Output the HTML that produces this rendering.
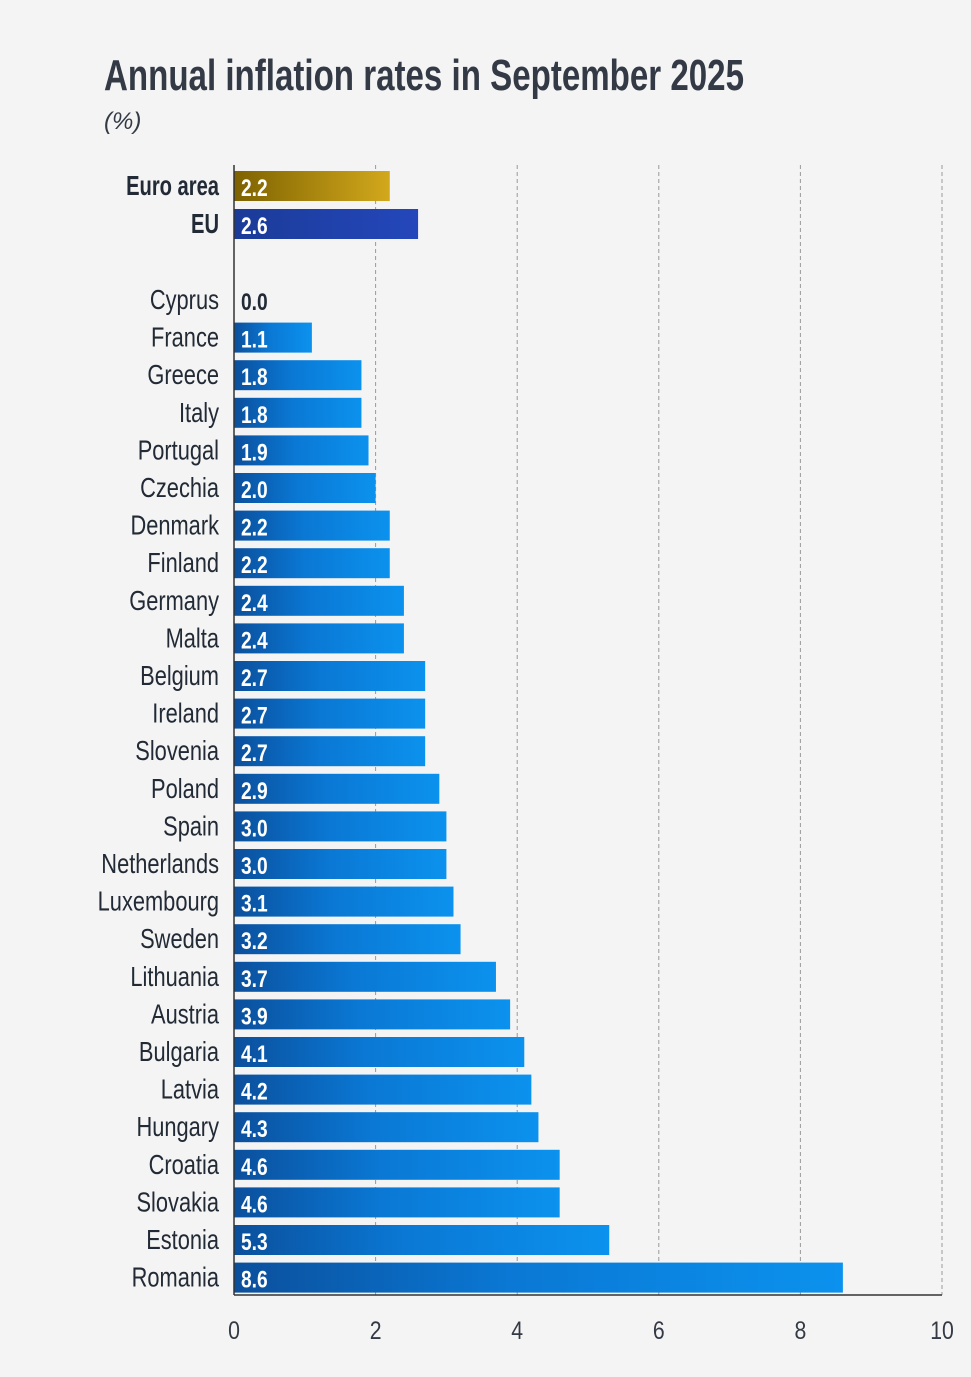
<!DOCTYPE html>
<html><head><meta charset="utf-8"><style>
html,body{margin:0;padding:0;background:#f4f4f4;}
svg{display:block;}
</style></head><body>
<svg id="chart" width="971" height="1377" viewBox="0 0 971 1377" xmlns="http://www.w3.org/2000/svg" font-family="'Liberation Sans',sans-serif">
<defs>
<linearGradient id="gBlue" x1="0" x2="1" y1="0" y2="0"><stop offset="0" stop-color="#0b4f9c"/><stop offset="0.45" stop-color="#0a78d4"/><stop offset="1" stop-color="#0b92ee"/></linearGradient>
<linearGradient id="gGold" x1="0" x2="1" y1="0" y2="0"><stop offset="0" stop-color="#7d6200"/><stop offset="1" stop-color="#d2a81c"/></linearGradient>
<linearGradient id="gEU" x1="0" x2="1" y1="0" y2="0"><stop offset="0" stop-color="#1b3b98"/><stop offset="1" stop-color="#2447bb"/></linearGradient>
</defs>
<rect width="971" height="1377" fill="#f4f4f4"/>
<text x="104" y="90" font-size="44" font-weight="bold" fill="#333a45" textLength="640" lengthAdjust="spacingAndGlyphs">Annual inflation rates in September 2025</text>
<text x="104" y="129" font-size="24" font-style="italic" fill="#333a45">(%)</text>
<g id="grid"></g>
<g id="bars"></g>
<g id="axis"></g>
</svg>
<script>
const aggCategories = ['Euro area','EU'];
const aggValues = [2.2, 2.6];
const categories = ['Cyprus','France','Greece','Italy','Portugal','Czechia','Denmark','Finland','Germany','Malta','Belgium','Ireland','Slovenia','Poland','Spain','Netherlands','Luxembourg','Sweden','Lithuania','Austria','Bulgaria','Latvia','Hungary','Croatia','Slovakia','Estonia','Romania'];
const values = [0.0,1.1,1.8,1.8,1.9,2.0,2.2,2.2,2.4,2.4,2.7,2.7,2.7,2.9,3.0,3.0,3.1,3.2,3.7,3.9,4.1,4.2,4.3,4.6,4.6,5.3,8.6];
const ticks = [0,2,4,6,8,10];

const NS='http://www.w3.org/2000/svg';
const x0=234, x1=942, xMax=10;
const xs = v => x0 + v/xMax*(x1-x0);
const barH=30;
const aggY = i => 171 + i*38;
const rowY = i => 285 + i*37.6;

function mk(tag, attrs, parent, txt){
  const e=document.createElementNS(NS,tag);
  for(const k in attrs) e.setAttribute(k, attrs[k]);
  if(txt!==undefined) e.textContent=txt;
  parent.appendChild(e); return e;
}
const grid=document.getElementById('grid'), bars=document.getElementById('bars'), axis=document.getElementById('axis');
ticks.forEach(t=>{
  if(t>0){
    const l=mk('line',{x1:xs(t),x2:xs(t),y1:165,y2:1295,stroke:'#9a9a9a','stroke-width':1,'stroke-dasharray':'4,3'},grid);
    
    
  }
  const tl=mk('text',{transform:'translate('+xs(t)+',1339) scale(0.85,1)','text-anchor':'middle','font-size':25,fill:'#333a45'},axis,String(t));
  
  
});
const ax=mk('line',{x1:x0,x2:x1,y1:1295,y2:1295,stroke:'#333','stroke-width':1.5},axis);


const ay=mk('line',{x1:x0,x2:x0,y1:165,y2:1295,stroke:'#333','stroke-width':1.5},axis);



function drawBar(name,v,y,fill,bold){
  const slug=name.toLowerCase().replace(/\s+/g,'-');
  const r=mk('rect',{x:x0,y:y,width:xs(v)-x0,height:barH,fill:fill},bars);
  
  
  const lab=mk('text',{transform:'translate(219,'+(y+24)+') scale('+(bold?0.72:0.78)+',1)','text-anchor':'end','font-size':28,fill:'#222a35','font-weight':bold?'bold':'normal'},bars,name);
  
  
  const val=mk('text',{transform:'translate(241,'+(y+25)+') scale(0.8,1)','font-size':24,'font-weight':'bold',fill:v===0?'#222a35':'#fff'},bars,v.toFixed(1));
  
  
}
aggCategories.forEach((c,i)=>drawBar(c,aggValues[i],aggY(i),i===0?'url(#gGold)':'url(#gEU)',true));
categories.forEach((c,i)=>drawBar(c,values[i],rowY(i),'url(#gBlue)',false));
</script>
</body></html>
